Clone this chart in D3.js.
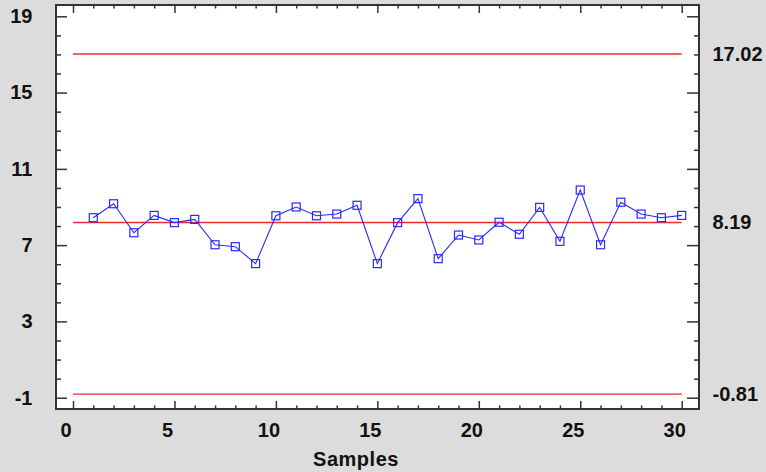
<!DOCTYPE html>
<html>
<head>
<meta charset="utf-8">
<script src="https://cdn.jsdelivr.net/npm/d3@7"></script>
<style>
  html, body { margin: 0; padding: 0; background: #dcdcdc; }
  svg { display: block; }
  text { font-family: "Liberation Sans", Arial, Helvetica, sans-serif; font-weight: bold; fill: #111; }
</style>
</head>
<body>
<svg id="chart" width="766" height="472"></svg>
<script>
// ---- data ----
const samples = d3.range(1, 31);
const values = [8.44, 9.17, 7.65, 8.56, 8.18, 8.35, 7.02, 6.92, 6.03, 8.54,
                9.00, 8.54, 8.63, 9.09, 6.03, 8.18, 9.44, 6.29, 7.53, 7.27,
                8.20, 7.57, 8.98, 7.20, 9.89, 7.02, 9.25, 8.63, 8.44, 8.56];
const controlLimits = [17.02, 8.19, -0.81];   // UCL, CL, LCL
const limitLabels = ["17.02", "8.19", "-0.81"];
const yMajorTicks = [-1, 3, 7, 11, 15, 19];
const yMinorTicks = d3.range(-1, 20, 1).filter(v => !yMajorTicks.includes(v));
const xMajorTicks = [0, 5, 10, 15, 20, 25, 30];
const xMinorTicks = d3.range(0, 31, 1).filter(v => !xMajorTicks.includes(v));
const xTitle = "Samples";

// ---- layout ----
const svg = d3.select("#chart");
const box = { left: 56, right: 699, top: 5, bottom: 409 };
const x = d3.scaleLinear().domain([0, 30]).range([73, 681.7]);
const y = d3.scaleLinear().domain([-1, 19]).range([397.7, 16.3]);
const fmt = d => String(d);

// plot background
svg.append("rect")
  .attr("x", box.left).attr("y", box.top)
  .attr("width", box.right - box.left).attr("height", box.bottom - box.top)
  .attr("fill", "#fff");

// control limit lines
svg.append("g").selectAll("line").data(controlLimits).join("line")
  .attr("x1", x(0)).attr("x2", x(30))
  .attr("y1", d => y(d)).attr("y2", d => y(d))
  .attr("stroke", "#ee2a2a").attr("stroke-width", 1.4);

// data line
svg.append("path")
  .datum(values)
  .attr("fill", "none")
  .attr("stroke", "#2a2aff")
  .attr("stroke-width", 1.1)
  .attr("d", d3.line().x((d, i) => x(samples[i])).y(d => y(d)));

// markers
const ms = 8;
svg.append("g").selectAll("rect").data(values).join("rect")
  .attr("x", (d, i) => x(samples[i]) - ms / 2)
  .attr("y", d => y(d) - ms / 2)
  .attr("width", ms).attr("height", ms)
  .attr("fill", "none")
  .attr("stroke", "#2a2aff")
  .attr("stroke-width", 1.2);

// axes helper
function styleAxis(g) {
  g.select(".domain").remove();
  g.selectAll(".tick line").attr("stroke", "#333").attr("stroke-width", 1.5);
  g.selectAll("text").style("font-size", "20px").attr("fill", "#111");
}

// left axis (ticks inward)
svg.append("g").attr("transform", `translate(${box.left},0)`)
  .call(d3.axisLeft(y).tickValues(yMajorTicks).tickSize(-11).tickPadding(23.5).tickFormat(fmt))
  .call(styleAxis);
svg.append("g").attr("transform", `translate(${box.left},0)`)
  .call(d3.axisLeft(y).tickValues(yMinorTicks).tickSize(-5).tickFormat(""))
  .call(styleAxis);

// right axis (ticks inward, no labels)
svg.append("g").attr("transform", `translate(${box.right},0)`)
  .call(d3.axisRight(y).tickValues(yMajorTicks).tickSize(-12).tickFormat(""))
  .call(styleAxis);
svg.append("g").attr("transform", `translate(${box.right},0)`)
  .call(d3.axisRight(y).tickValues(yMinorTicks).tickSize(-5).tickFormat(""))
  .call(styleAxis);

// bottom axis
const bottomAxis = svg.append("g").attr("transform", `translate(0,${box.bottom})`)
  .call(d3.axisBottom(x).tickValues(xMajorTicks).tickSize(-8).tickPadding(14).tickFormat(fmt))
  .call(styleAxis);
bottomAxis.selectAll("text").attr("dx", -7.5);
svg.append("g").attr("transform", `translate(0,${box.bottom})`)
  .call(d3.axisBottom(x).tickValues(xMinorTicks).tickSize(-3.5).tickFormat(""))
  .call(styleAxis);

// top axis
svg.append("g").attr("transform", `translate(0,${box.top})`)
  .call(d3.axisTop(x).tickValues(xMajorTicks).tickSize(-8).tickFormat(""))
  .call(styleAxis);
svg.append("g").attr("transform", `translate(0,${box.top})`)
  .call(d3.axisTop(x).tickValues(xMinorTicks).tickSize(-3.5).tickFormat(""))
  .call(styleAxis);

// frame
svg.append("rect")
  .attr("x", box.left).attr("y", box.top)
  .attr("width", box.right - box.left).attr("height", box.bottom - box.top)
  .attr("fill", "none").attr("stroke", "#333").attr("stroke-width", 2);

// limit labels on right
svg.append("g").selectAll("text").data(controlLimits).join("text")
  .attr("x", 712.5)
  .attr("y", d => y(d))
  .attr("dy", "0.35em")
  .style("font-size", "20px")
  .text((d, i) => limitLabels[i]);

// x title
svg.append("text")
  .attr("x", 356).attr("y", 459)
  .attr("dy", "0.35em")
  .attr("text-anchor", "middle")
  .style("font-size", "20px")
  .style("letter-spacing", "0.5px")
  .text(xTitle);
</script>
</body>
</html>
